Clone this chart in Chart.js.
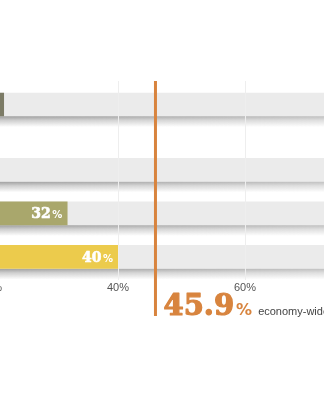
<!DOCTYPE html>
<html>
<head>
<meta charset="utf-8">
<script src="https://cdn.jsdelivr.net/npm/chart.js@4/dist/chart.umd.min.js"></script>
<style>
  html, body { margin: 0; padding: 0; background: #ffffff; overflow: hidden; }
  body { width: 324px; height: 400px; position: relative; }
  #wrap { position: absolute; left: -160px; top: 0; width: 700px; height: 400px; }
</style>
</head>
<body>
<div id="wrap"><canvas id="chart"></canvas></div>
<script>
// Share of each group, in percent
const categories = ['Group A', 'Group B', 'Group C', 'Group D'];
const shares = [22, 18, 32, 40];
const trackValues = [100, 100, 100, 100];
const xTicks = [0, 20, 40, 60, 80, 100];
const economyWide = 45.9;
const economyWideLabel = 'economy-wide';

const barColors = ['#7c7b66', '#8e8d74', '#a9a76c', '#eccb4c'];
const trackColor = '#ebebeb';
const orange = '#d8843e';

// first row stands apart from the others by half a row
const rowIndex = categories.map((_, i) => i + (i > 0 ? 0.5 : 0));

const shadowPlugin = {
  id: 'trackShadow',
  beforeDatasetsDraw(chart) {
    const ctx = chart.ctx;
    const meta = chart.getDatasetMeta(0);
    meta.data.forEach(el => {
      const left = Math.min(el.base, el.x);
      const right = Math.max(el.base, el.x);
      const top = el.y + el.height / 2;
      const h = 11;
      ctx.save();
      const g = ctx.createLinearGradient(0, top, 0, top + h);
      g.addColorStop(0, 'rgba(0,0,0,0.45)');
      g.addColorStop(0.4, 'rgba(0,0,0,0.22)');
      g.addColorStop(1, 'rgba(0,0,0,0)');
      ctx.fillStyle = g;
      ctx.fillRect(left, top, right - left, h);
      const w = ctx.createLinearGradient(left, 0, right, 0);
      w.addColorStop(0, 'rgba(255,255,255,0)');
      w.addColorStop(1, 'rgba(255,255,255,0.6)');
      ctx.fillStyle = w;
      ctx.fillRect(left, top, right - left, h);
      ctx.restore();
    });
  }
};

// heavier text: fill plus a thin stroke in the same colour
function heavyText(ctx, text, x, y, weight) {
  ctx.lineWidth = weight;
  ctx.lineJoin = 'round';
  ctx.strokeStyle = ctx.fillStyle;
  ctx.strokeText(text, x, y);
  ctx.fillText(text, x, y);
}

const valueLabelPlugin = {
  id: 'valueLabels',
  afterDatasetsDraw(chart) {
    const ctx = chart.ctx;
    const meta = chart.getDatasetMeta(1);
    meta.data.forEach((el, i) => {
      const right = el.x - 5;
      const y = el.y + 5;
      ctx.save();
      ctx.fillStyle = '#ffffff';
      ctx.textBaseline = 'alphabetic';
      ctx.textAlign = 'right';
      ctx.font = 'bold 10px "DejaVu Sans"';
      ctx.fillText('%', right, y);
      const pw = ctx.measureText('%').width;
      ctx.font = 'bold 14px "DejaVu Serif"';
      heavyText(ctx, String(shares[i]), right - pw - 1.5, y, 0.6);
      ctx.restore();
    });
  }
};

const referencePlugin = {
  id: 'economyWide',
  afterDraw(chart) {
    const ctx = chart.ctx;
    const xs = chart.scales.x;
    const area = chart.chartArea;
    const x = xs.getPixelForValue(economyWide);
    const bottom = area.bottom + 36;
    ctx.save();
    ctx.fillStyle = orange;
    ctx.fillRect(x - 1.5, area.top, 3, bottom - area.top);
    const base = area.bottom + 35;
    ctx.textBaseline = 'alphabetic';
    ctx.textAlign = 'left';
    ctx.font = 'bold 29px "DejaVu Serif"';
    const num = economyWide.toFixed(1);
    heavyText(ctx, num, x + 8, base, 1.2);
    const nw = ctx.measureText(num).width;
    ctx.font = 'bold 16px "DejaVu Sans"';
    ctx.fillText('%', x + 8 + nw + 2, base);
    const pw = ctx.measureText('%').width;
    ctx.fillStyle = '#444444';
    ctx.font = '11px "Liberation Sans"';
    ctx.fillText(economyWideLabel, x + 8 + nw + 2 + pw + 6, base);
    ctx.restore();
  }
};

new Chart(document.getElementById('chart'), {
  type: 'bar',
  data: {
    datasets: [
      {
        label: 'track',
        data: trackValues.map((v, i) => ({ x: v, y: rowIndex[i] })),
        backgroundColor: trackColor,
        order: 2
      },
      {
        label: 'share',
        data: shares.map((v, i) => ({ x: v, y: rowIndex[i] })),
        backgroundColor: barColors,
        order: 1
      }
    ]
  },
  options: {
    indexAxis: 'y',
    responsive: true,
    maintainAspectRatio: false,
    animation: false,
    datasets: { bar: { grouped: false, barThickness: 23, borderWidth: 0 } },
    layout: { padding: { left: 24, right: 41, top: 81, bottom: 100 } },
    plugins: { legend: { display: false }, tooltip: { enabled: false } },
    scales: {
      y: {
        type: 'linear',
        display: false,
        reverse: true,
        offset: false,
        min: -0.54,
        max: 4.03
      },
      x: {
        type: 'linear',
        min: 0,
        max: 100,
        afterFit(s) { s.height = 20; },
        afterBuildTicks(s) { s.ticks = xTicks.map(v => ({ value: v })); },
        border: { display: false },
        grid: { color: '#eeeeee', lineWidth: 1, drawTicks: false, z: 1 },
        ticks: {
          padding: 1,
          color: '#555555',
          font: { family: '"Liberation Sans"', size: 11 },
          maxRotation: 0,
          callback: v => v + '%'
        }
      }
    }
  },
  plugins: [shadowPlugin, valueLabelPlugin, referencePlugin]
});
</script>
</body>
</html>
